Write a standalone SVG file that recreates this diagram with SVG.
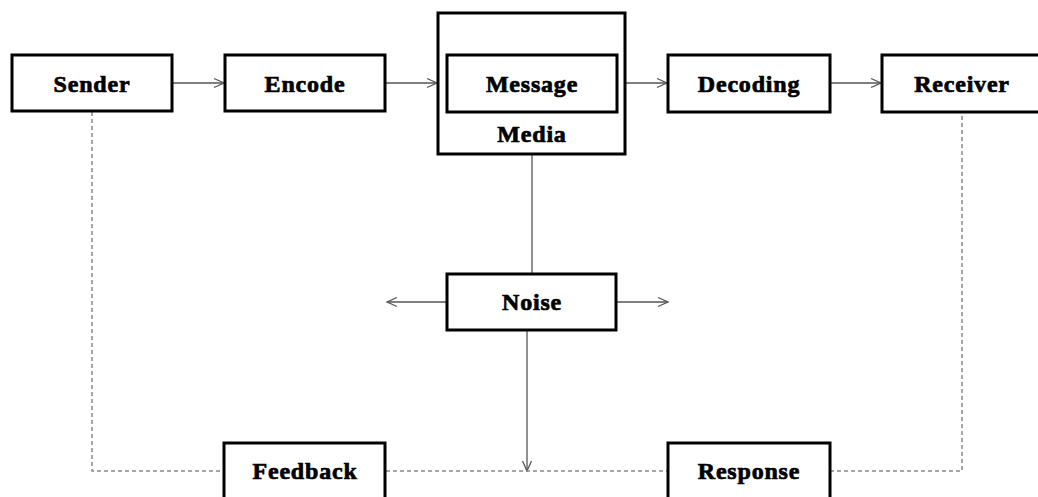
<svg xmlns="http://www.w3.org/2000/svg" width="1038" height="497" viewBox="0 0 1038 497">
<style>
.box{fill:#fff;stroke:#000;stroke-width:3}
.lbl{font-family:"Liberation Serif","Times New Roman",serif;font-weight:bold;font-size:24px;letter-spacing:0.8px;text-anchor:middle;fill:#000;stroke:#000;stroke-width:0.7}
.ln{fill:none;stroke:#555;stroke-width:1.3}
.dash{fill:none;stroke:#888;stroke-width:1.5;stroke-dasharray:4 3}
</style>
<defs>
<marker id="ah" viewBox="0 0 12 12" refX="11" refY="6" markerWidth="12" markerHeight="12" markerUnits="userSpaceOnUse" orient="auto">
<path d="M1,1.5 L11,6 L1,10.5" fill="none" stroke="#555" stroke-width="1.3"/>
</marker>
</defs>
<rect width="1038" height="497" fill="#fff"/>
<g id="connectors">
<line class="ln" x1="172" y1="83" x2="224" y2="83" marker-end="url(#ah)"/>
<line class="ln" x1="386" y1="83" x2="437" y2="83" marker-end="url(#ah)"/>
<line class="ln" x1="626" y1="83" x2="667" y2="83" marker-end="url(#ah)"/>
<line class="ln" x1="831" y1="83" x2="881" y2="83" marker-end="url(#ah)"/>
<line class="ln" x1="532" y1="155" x2="532" y2="274"/>
<line class="ln" x1="447" y1="302" x2="387" y2="302" marker-end="url(#ah)"/>
<line class="ln" x1="616" y1="302" x2="668" y2="302" marker-end="url(#ah)"/>
<line class="ln" x1="527" y1="330" x2="527" y2="471" marker-end="url(#ah)"/>
<polyline class="dash" points="92,112 92,471 224,471"/>
<line class="dash" x1="386" y1="471" x2="668" y2="471"/>
<polyline class="dash" points="830,471 962,471 962,112"/>
</g>
<g id="sender"><rect class="box" x="12" y="55" width="160" height="56"/><text class="lbl" x="92" y="92">Sender</text></g>
<g id="encode"><rect class="box" x="225" y="55" width="160" height="56"/><text class="lbl" x="305" y="92">Encode</text></g>
<g id="media"><rect class="box" x="438" y="13" width="187" height="141"/><text class="lbl" x="532" y="142">Media</text></g>
<g id="message"><rect class="box" x="447" y="55" width="170" height="57"/><text class="lbl" x="532" y="92">Message</text></g>
<g id="decoding"><rect class="box" x="668" y="55" width="162" height="57"/><text class="lbl" x="749" y="92">Decoding</text></g>
<g id="receiver"><rect class="box" x="882" y="55" width="160" height="57"/><text class="lbl" x="962" y="92">Receiver</text></g>
<g id="noise"><rect class="box" x="447" y="274" width="169" height="56"/><text class="lbl" x="532" y="310">Noise</text></g>
<g id="feedback"><rect class="box" x="224" y="443" width="161" height="60"/><text class="lbl" x="305" y="479">Feedback</text></g>
<g id="response"><rect class="box" x="668" y="443" width="162" height="60"/><text class="lbl" x="749" y="479">Response</text></g>
</svg>
